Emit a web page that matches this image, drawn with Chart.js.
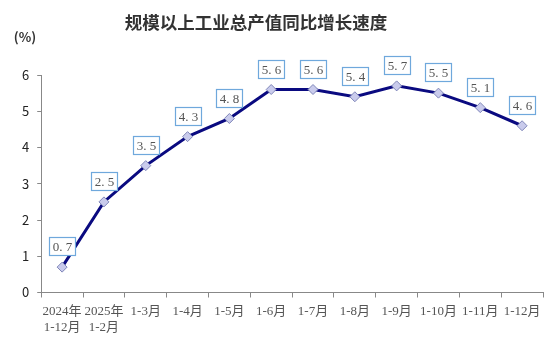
<!DOCTYPE html>
<html>
<head>
<meta charset="utf-8">
<script src="https://cdn.jsdelivr.net/npm/chart.js@4.4.1/dist/chart.umd.min.js"></script>
<style>
  html, body { margin: 0; padding: 0; background: #fff; }
  #wrap { width: 560px; height: 355px; position: relative; }
</style>
</head>
<body>
<div id="wrap"><canvas id="mychart" width="560" height="355"></canvas></div>
<script>
const categories = [
  ['2024年', '1-12月'], ['2025年', '1-2月'], '1-3月', '1-4月', '1-5月', '1-6月',
  '1-7月', '1-8月', '1-9月', '1-10月', '1-11月', '1-12月'
];
const growth = [0.7, 2.5, 3.5, 4.3, 4.8, 5.6, 5.6, 5.4, 5.7, 5.5, 5.1, 4.6];
const yTicks = [0, 1, 2, 3, 4, 5, 6];

const serif = '"Liberation Serif", "Noto Sans CJK SC", serif';
const sans = '"Noto Sans CJK SC", "DejaVu Sans", sans-serif';

// boxed value labels above each point
const boxLabels = {
  id: 'boxLabels',
  afterDatasetsDraw(chart) {
    let ctx = chart.ctx;
    let meta = chart.getDatasetMeta(0);
    ctx.save();
    ctx.font = '13px ' + serif;
    ctx.textAlign = 'center';
    ctx.textBaseline = 'middle';
    meta.data.forEach(function (pt, i) {
      let txt = growth[i].toFixed(1).replace('.', '. ');
      let w = 26, h = 18;
      let cx = Math.round(pt.x) + 0.5, cy = Math.round(pt.y - 21) + 0.5;
      ctx.fillStyle = '#fff';
      ctx.fillRect(cx - w / 2, cy - h / 2, w, h);
      ctx.strokeStyle = '#6fa8dc';
      ctx.lineWidth = 1.2;
      ctx.strokeRect(cx - w / 2, cy - h / 2, w, h);
      ctx.fillStyle = '#555';
      ctx.fillText(txt, cx, cy + 1);
    });
    ctx.restore();
  }
};

// title and unit
const headText = {
  id: 'headText',
  afterDraw(chart) {
    let ctx = chart.ctx;
    ctx.save();
    ctx.fillStyle = '#333';
    ctx.textAlign = 'center';
    ctx.textBaseline = 'middle';
    ctx.font = 'bold 17.5px ' + sans;
    ctx.fillText('规模以上工业总产值同比增长速度', 256, 22);
    ctx.font = 'bold 13px ' + sans;
    ctx.fillText('(%)', 25, 37);
    ctx.restore();
  }
};

const data = {
  labels: categories,
  datasets: [{
    data: growth,
    borderColor: '#0a0a80',
    borderWidth: 3,
    pointStyle: 'rectRot',
    pointRadius: 5,
    pointBackgroundColor: '#c9cbec',
    pointBorderColor: '#7f86b8',
    pointBorderWidth: 1,
    tension: 0,
    fill: false
  }]
};

const config = {
  type: 'line',
  data: data,
  options: {
    responsive: false,
    animation: false,
    layout: { padding: { top: 75, right: 17, bottom: 13, left: 14 } },
    plugins: { legend: { display: false }, tooltip: { enabled: false } },
    scales: {
      x: {
        offset: true,
        grid: { offset: true, drawOnChartArea: false, tickLength: 5, color: '#888' },
        border: { color: '#888', width: 1 },
        ticks: { color: '#555', font: { family: serif, size: 13, lineHeight: 1.25 }, maxRotation: 0, autoSkip: false, padding: 6 }
      },
      y: {
        min: 0,
        max: 6,
        afterBuildTicks(axis) { axis.ticks = yTicks.map(v => ({ value: v })); },
        grid: { drawOnChartArea: false, tickLength: 4, color: '#888' },
        border: { color: '#888', width: 1 },
        ticks: { color: '#222', font: { family: sans, size: 13 }, padding: 8 }
      }
    }
  },
  plugins: [boxLabels, headText]
};

var myChart = new Chart(document.getElementById('mychart'), config);
</script>
</body>
</html>
